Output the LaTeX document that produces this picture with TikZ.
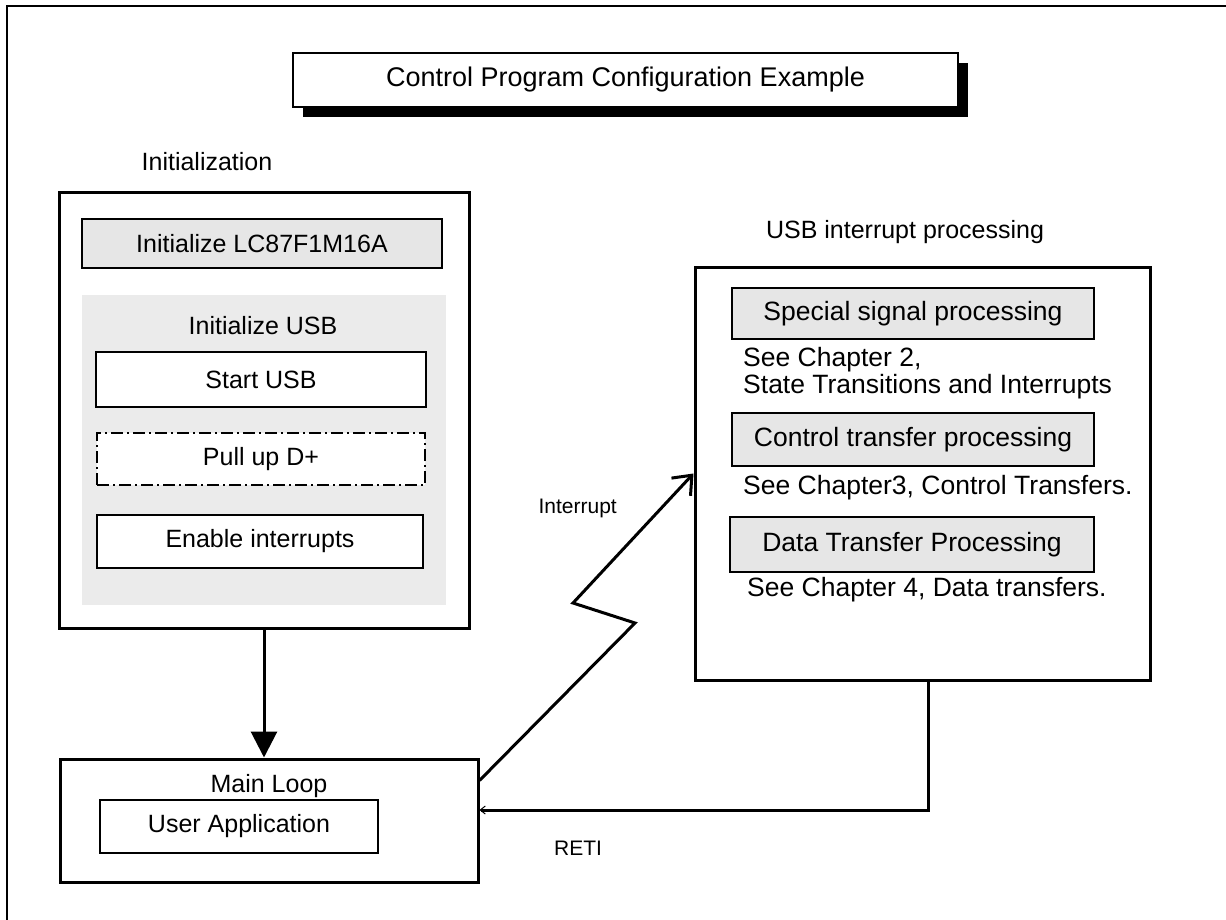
\documentclass[tikz,border=0pt]{standalone}
\usepackage{fontspec}
\setmainfont{Liberation Sans}
\usetikzlibrary{arrows.meta,shadows}
\newcommand\boxsize{\fontsize{25}{27}\selectfont}
\newcommand\notesize{\fontsize{26.5}{27}\selectfont}
\newcommand\labsize{\fontsize{21}{24}\selectfont}
\definecolor{panelgray}{HTML}{EBEBEB}
\definecolor{boxgray}{HTML}{E6E6E6}
\begin{document}
\begin{tikzpicture}[x=1pt,y=-1pt,
  thickbox/.style={draw, line width=3pt, inner sep=0pt},
  thinbox/.style={draw, line width=1.5pt, inner sep=0pt, font=\boxsize},
  graybox/.style={thinbox, fill=boxgray, font=\notesize},
  plain/.style={inner sep=0pt, font=\boxsize},
  note/.style={inner sep=0pt, font=\notesize, align=left, anchor=west},
  flow/.style={line width=3pt},
]
\useasboundingbox (0,0) rectangle (1226,920);

% page frame (only top and left edges show)
\draw[line width=2.5pt] (7,920) -- (7,6) -- (1226,6);

% title with solid drop shadow
\node[thinbox, fill=white, minimum width=665pt, minimum height=54pt,
      font=\fontsize{27}{29}\selectfont,
      drop shadow={shadow xshift=10pt, shadow yshift=-10pt, fill=black, opacity=1}]
  (title) at (625.5,80) {Control Program Configuration Example};

% ---- initialization block ----
\node[plain] (initlab) at (207,162) {Initialization};
\node[thickbox, minimum width=410pt, minimum height=435pt] (init) at (264,410.5) {};
\node[thinbox, fill=boxgray, minimum width=360pt, minimum height=49pt] (lc87) at (262,243.5) {Initialize LC87F1M16A};
\node[fill=panelgray, inner sep=0pt, minimum width=364pt, minimum height=310pt] (usbinit) at (264,450) {};
\node[plain] (usbinitlab) at (263,326) {Initialize USB};
\node[thinbox, fill=white, minimum width=330pt, minimum height=55pt] (start) at (261,379.5) {Start USB};
\node[thinbox, fill=white, dash pattern=on 12pt off 4pt on 2pt off 4pt,
      minimum width=328pt, minimum height=52pt] (pullup) at (261,459) {Pull up D+};
\node[thinbox, fill=white, minimum width=326pt, minimum height=53pt] (enable) at (260,541.5) {Enable interrupts};

% ---- main loop ----
\node[thickbox, minimum width=418pt, minimum height=123pt] (main) at (269,820.5) {};
\node[plain] (mainlab) at (269,786) {Main Loop};
\node[thinbox, minimum width=278pt, minimum height=53pt] (app) at (239,826.5) {User Application};

% ---- USB interrupt processing ----
\node[plain] (usblab) at (905,232) {USB interrupt processing};
\node[thickbox, minimum width=455pt, minimum height=413pt] (usb) at (922.5,473.5) {};
\node[graybox, minimum width=362pt, minimum height=51pt] (special) at (913,313.5) {Special signal processing};
\node[note] (note1) at (743,373.5) {See Chapter 2,\\State Transitions and Interrupts};
\node[graybox, minimum width=362pt, minimum height=53pt] (ctrl) at (913,439.5) {Control transfer processing};
\node[note] (note2) at (743,488) {See Chapter3, Control Transfers.};
\node[graybox, minimum width=364pt, minimum height=55pt] (data) at (912,544.5) {Data Transfer Processing};
\node[note] (note3) at (747,590) {See Chapter 4, Data transfers.};

% ---- connectors ----
\draw[flow, -{Triangle[width=26pt,length=26pt]}] (init.south) -- (init.south |- main.north);

\coordinate (z1) at (635,623);
\coordinate (z2) at (573,603);
\draw[flow, line join=miter, -{Straight Barb[length=16pt,width=26pt,line width=3pt]}]
  ([yshift=40pt]main.east) -- (z1) -- (z2) -- (usb.west);
\node[inner sep=0pt, font=\labsize, anchor=east] (intlab) at (617,508) {Interrupt};

\coordinate (rx) at (928,810);
\draw[flow, -{Straight Barb[length=5pt,width=8pt,line width=1pt]}]
  (usb.south -| rx) -- (rx) -- (main.east |- rx);
\node[inner sep=0pt, font=\labsize] (retilab) at (578,848) {RETI};
\end{tikzpicture}
\end{document}
